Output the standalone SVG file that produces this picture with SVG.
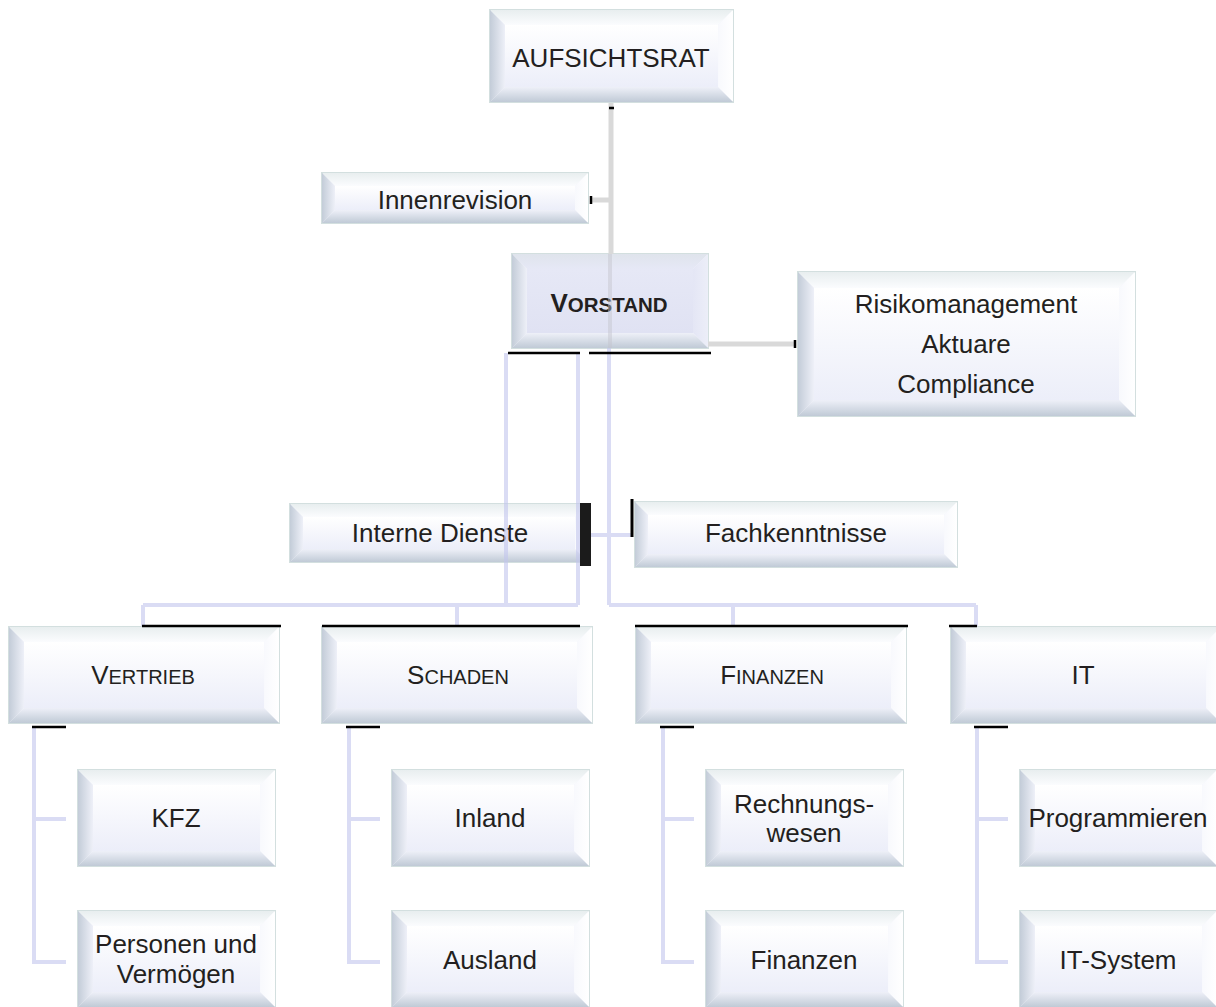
<svg xmlns="http://www.w3.org/2000/svg" xmlns:xlink="http://www.w3.org/1999/xlink" width="1216" height="1007" viewBox="0 0 1216 1007">
<defs>
<linearGradient id="gL" x1="0" y1="0" x2="1" y2="0"><stop offset="0" stop-color="#c3ccd8"/><stop offset="1" stop-color="#eef0f8"/></linearGradient>
<linearGradient id="gB" x1="0" y1="0" x2="0" y2="1"><stop offset="0" stop-color="#eef0f8"/><stop offset="1" stop-color="#c0cad6"/></linearGradient>
<linearGradient id="gT" x1="0" y1="0" x2="0" y2="1"><stop offset="0" stop-color="#e8eeef"/><stop offset="1" stop-color="#fbfcfe"/></linearGradient>
<linearGradient id="gR" x1="0" y1="0" x2="1" y2="0"><stop offset="0" stop-color="#f8f9fd"/><stop offset="1" stop-color="#ffffff"/></linearGradient>
<linearGradient id="gF" x1="0" y1="0" x2="0" y2="1"><stop offset="0" stop-color="#ffffff"/><stop offset="1" stop-color="#eceef9"/></linearGradient>
<linearGradient id="gFv" x1="0" y1="0" x2="0" y2="1"><stop offset="0" stop-color="#e6e8f6"/><stop offset="1" stop-color="#e0e2f3"/></linearGradient>
<linearGradient id="gTv" x1="0" y1="0" x2="0" y2="1"><stop offset="0" stop-color="#dfe4ec"/><stop offset="1" stop-color="#e6e8f6"/></linearGradient>
<linearGradient id="gRv" x1="0" y1="0" x2="1" y2="0"><stop offset="0" stop-color="#e4e6f5"/><stop offset="1" stop-color="#eceef8"/></linearGradient>
<g id="bx1">
<rect class="edge" x="0" y="0" width="270" height="96"/>
<polygon class="t" points="0,0 270,0 255,15 15,15"/>
<polygon class="l" points="0,0 15,15 15,81 0,96"/>
<polygon class="r" points="270,0 270,96 255,81 255,15"/>
<polygon class="b" points="0,96 15,81 255,81 270,96"/>
<rect class="f" x="15" y="15" width="240" height="66"/>
</g>
<g id="bx2">
<rect class="edge" x="0" y="0" width="197" height="96"/>
<polygon class="t" points="0,0 197,0 182,15 15,15"/>
<polygon class="l" points="0,0 15,15 15,81 0,96"/>
<polygon class="r" points="197,0 197,96 182,81 182,15"/>
<polygon class="b" points="0,96 15,81 182,81 197,96"/>
<rect class="f" x="15" y="15" width="167" height="66"/>
</g>
</defs>
<style>
.edge{fill:#f4f5fb;stroke:#d3dfdf;stroke-width:2}
.t{fill:url(#gT)}
.l{fill:url(#gL)}
.r{fill:url(#gR)}
.b{fill:url(#gB)}
.f{fill:url(#gF)}
.fv{fill:url(#gFv)}
.lbl{font-family:"Liberation Sans",Arial,Helvetica,sans-serif;font-size:26px;fill:#231f20;text-anchor:middle}
.sc{font-size:20px}
.gray{stroke:#d9d9d9;stroke-width:5;fill:none}
.lav{stroke:#c1c5ed;stroke-opacity:0.6;stroke-width:4;fill:none}
.blk{stroke:#000;stroke-width:2.5;fill:none}
</style>
<rect x="0" y="0" width="1216" height="1007" fill="#ffffff"/>

<g id="nodes">
<g id="n-aufsichtsrat">
<rect class="edge" x="490" y="10" width="243" height="92"/>
<polygon class="t" points="490,10 733,10 718,25 505,25"/>
<polygon class="l" points="490,10 505,25 505,87 490,102"/>
<polygon class="r" points="733,10 733,102 718,87 718,25"/>
<polygon class="b" points="490,102 505,87 718,87 733,102"/>
<rect class="f" x="505" y="25" width="213" height="62"/>
<text class="lbl" x="611" y="67">AUFSICHTSRAT</text>
</g>
<g id="n-innenrevision">
<rect class="edge" x="322" y="173" width="266" height="50"/>
<polygon class="t" points="322,173 588,173 575,186 335,186"/>
<polygon class="l" points="322,173 335,186 335,210 322,223"/>
<polygon class="r" points="588,173 588,223 575,210 575,186"/>
<polygon class="b" points="322,223 335,210 575,210 588,223"/>
<rect class="f" x="335" y="186" width="240" height="24"/>
<text class="lbl" x="455" y="209">Innenrevision</text>
</g>
<g id="n-vorstand">
<rect class="edge" x="512" y="254" width="196" height="94"/>
<polygon fill="url(#gTv)" points="512,254 708,254 693,269 527,269"/>
<polygon class="l" points="512,254 527,269 527,333 512,348"/>
<polygon fill="url(#gRv)" points="708,254 708,348 693,333 693,269"/>
<polygon class="b" points="512,348 527,333 693,333 708,348"/>
<rect class="fv" x="527" y="269" width="166" height="64"/>
<text class="lbl" x="609" y="312" font-weight="bold">V<tspan font-size="20.5">ORSTAND</tspan></text>
</g>
<g id="n-risiko">
<rect class="edge" x="798" y="272" width="337" height="144"/>
<polygon class="t" points="798,272 1135,272 1119,288 814,288"/>
<polygon class="l" points="798,272 814,288 814,400 798,416"/>
<polygon class="r" points="1135,272 1135,416 1119,400 1119,288"/>
<polygon class="b" points="798,416 814,400 1119,400 1135,416"/>
<rect class="f" x="814" y="288" width="305" height="112"/>
<text class="lbl" x="966" y="313">Risikomanagement</text>
<text class="lbl" x="966" y="353">Aktuare</text>
<text class="lbl" x="966" y="393">Compliance</text>
</g>
<g id="n-interne">
<rect class="edge" x="290" y="504" width="298" height="58"/>
<polygon class="t" points="290,504 588,504 575,517 303,517"/>
<polygon class="l" points="290,504 303,517 303,549 290,562"/>
<polygon class="r" points="588,504 588,562 575,549 575,517"/>
<polygon class="b" points="290,562 303,549 575,549 588,562"/>
<rect class="f" x="303" y="517" width="272" height="32"/>
<text class="lbl" x="440" y="542">Interne Dienste</text>
</g>
<g id="n-fach">
<rect class="edge" x="635" y="502" width="322" height="65"/>
<polygon class="t" points="635,502 957,502 944,515 648,515"/>
<polygon class="l" points="635,502 648,515 648,554 635,567"/>
<polygon class="r" points="957,502 957,567 944,554 944,515"/>
<polygon class="b" points="635,567 648,554 944,554 957,567"/>
<rect class="f" x="648" y="515" width="296" height="39"/>
<text class="lbl" x="796" y="542">Fachkenntnisse</text>
</g>
<g id="n-vertrieb"><use xlink:href="#bx1" href="#bx1" x="9" y="627"/><text class="lbl" x="143" y="684">V<tspan class="sc">ERTRIEB</tspan></text></g>
<g id="n-schaden"><use xlink:href="#bx1" href="#bx1" x="322" y="627"/><text class="lbl" x="458" y="684">S<tspan class="sc">CHADEN</tspan></text></g>
<g id="n-finanzen"><use xlink:href="#bx1" href="#bx1" x="636" y="627"/><text class="lbl" x="772" y="684">F<tspan class="sc">INANZEN</tspan></text></g>
<g id="n-it"><use xlink:href="#bx1" href="#bx1" x="951" y="627"/><text class="lbl" x="1083" y="684">IT</text></g>
<g id="n-kfz"><use xlink:href="#bx2" href="#bx2" x="78" y="770"/><text class="lbl" x="176" y="827">KFZ</text></g>
<g id="n-personen"><use xlink:href="#bx2" href="#bx2" x="78" y="911"/><text class="lbl" x="176" y="953">Personen und</text><text class="lbl" x="176" y="983">Vermögen</text></g>
<g id="n-inland"><use xlink:href="#bx2" href="#bx2" x="392" y="770"/><text class="lbl" x="490" y="827">Inland</text></g>
<g id="n-ausland"><use xlink:href="#bx2" href="#bx2" x="392" y="911"/><text class="lbl" x="490" y="969">Ausland</text></g>
<g id="n-rechnungswesen"><use xlink:href="#bx2" href="#bx2" x="706" y="770"/><text class="lbl" x="804" y="813">Rechnungs-</text><text class="lbl" x="804" y="842">wesen</text></g>
<g id="n-finanzen2"><use xlink:href="#bx2" href="#bx2" x="706" y="911"/><text class="lbl" x="804" y="969">Finanzen</text></g>
<g id="n-programmieren"><use xlink:href="#bx2" href="#bx2" x="1020" y="770"/><text class="lbl" x="1118" y="827">Programmieren</text></g>
<g id="n-itsystem"><use xlink:href="#bx2" href="#bx2" x="1020" y="911"/><text class="lbl" x="1118" y="969">IT-System</text></g>
</g>

<g id="connectors">
<path class="gray" d="M611,103 V254 M590,200 H611 M708,344 H795"/>
<path d="M610,254 V348" stroke="#c4c4cc" stroke-opacity="0.45" stroke-width="4" fill="none"/>
<path class="lav" d="M506,353 V605 M578,353 V605 M609,348 V605 M143,605 H578 M609,605 H976 M143,605 V626 M457,605 V626 M733,605 V626 M976,605 V626 M591,535 H632"/>
<path class="lav" d="M34,727 V962 H66 M34,819 H66 M349,727 V962 H380 M349,819 H380 M663,727 V962 H694 M663,819 H694 M977,727 V962 H1008 M977,819 H1008"/>
<path class="blk" d="M609,108 H614 M591,196 V204 M795,340 V348"/>
<path class="blk" d="M508,353 H580 M589,353 H711 M142,626 H281 M322,626 H580 M635,626 H908 M949,626 H977 M32,727 H66 M346,727 H380 M660,727 H694 M974,727 H1008"/>
<path d="M632,499 V537" stroke="#000" stroke-width="3" fill="none"/>
<rect x="580" y="503" width="11" height="63" fill="#1b1b1b"/>
</g>
</svg>
